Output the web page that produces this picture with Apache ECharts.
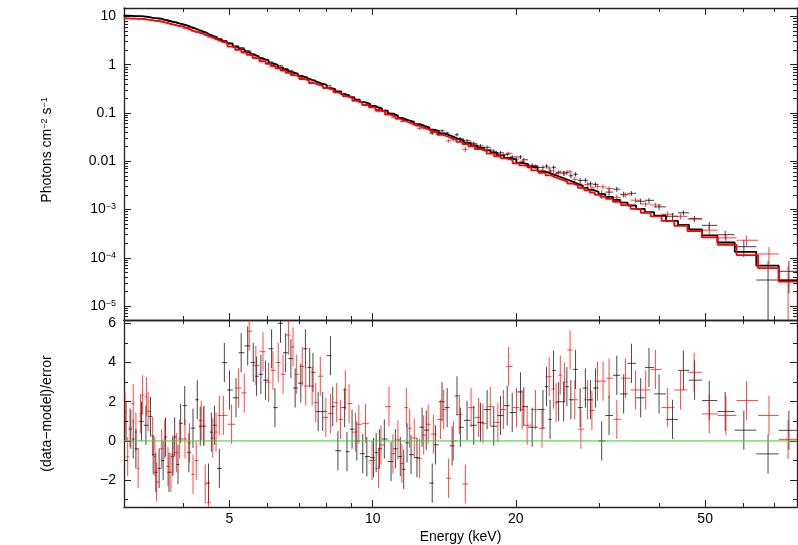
<!DOCTYPE html>
<html><head><meta charset="utf-8">
<script src="https://cdn.jsdelivr.net/npm/echarts@6/dist/echarts.min.js"></script>
<style>html,body{margin:0;padding:0;background:#fff}#c{width:798px;height:545px}</style>
</head><body><div id="c"></div>
<script>
// ---------- data ----------
const blackEnergy = [3.03,3.10,3.137,3.178,3.265,3.336,3.41,3.455,3.50,3.556,3.625,3.667,3.73,3.80,3.834,3.896,3.947,4.025,4.107,4.19,4.277,4.34,4.415,4.516,4.58,4.648,4.76,4.877,5.0,5.16,5.29,5.46,5.608,5.70,5.82,5.95,6.13,6.23,6.40,6.56,6.73,6.87,7.06,7.22,7.37,7.49,7.68,7.85,8.15,8.24,8.45,8.73,8.83,9.05,9.26,9.53,9.72,10.04,10.17,10.34,10.58,10.93,11.16,11.43,11.62,11.81,12.04,12.39,12.70,12.96,13.34,13.55,13.99,14.34,14.69,15.04,15.29,15.79,16.31,16.85,17.40,17.97,18.57,19.18,19.65,20.45,20.78,21.64,22.8,23.2,23.6,24.0,24.6,25.2,25.6,26.1,26.7,27.3,28.0,28.7,29.4,30.3,31.4,32.6,33.7,35.0,36.6,38.1,40.0,42.7,45.0,47.5,51.0,55.1,60.3,67.8,75.0];
const blackModel = [10.36,10.28,10.24,10.20,10.04,9.78,9.51,9.36,9.21,9.03,8.65,8.41,8.06,7.69,7.53,7.24,6.98,6.52,6.07,5.67,5.27,5.00,4.65,4.23,3.98,3.74,3.38,3.04,2.73,2.36,2.115,1.82,1.60,1.485,1.346,1.227,1.063,0.989,0.875,0.786,0.706,0.644,0.577,0.528,0.489,0.4587,0.417,0.3834,0.329,0.309,0.279,0.2438,0.2326,0.210,0.1897,0.168,0.1549,0.140,0.1325,0.1239,0.1121,0.0970,0.0885,0.0794,0.0749,0.0705,0.0657,0.0590,0.0539,0.0499,0.0450,0.0425,0.0376,0.0344,0.0315,0.0288,0.0272,0.0241,0.0214,0.01897,0.01681,0.01494,0.01324,0.01175,0.01075,0.00927,0.00874,0.00751,0.00617,0.00581,0.00548,0.00510,0.00466,0.00430,0.00404,0.00374,0.00340,0.00313,0.00281,0.00255,0.00232,0.00207,0.00182,0.00158,0.00139,0.00121,0.00103,8.86e-4,7.42e-4,5.83e-4,4.77e-4,3.85e-4,2.90e-4,2.07e-4,1.33e-4,6.84e-5,3.40e-5];
const blackResid = [1.0,0.6,0.1,-0.4,1.0,0.8,1.25,-0.7,-1.6,-1.4,-1.0,0.2,-1.6,-0.8,0.2,-1.2,0.9,1.8,-0.6,0.65,2.1,0.75,0.75,-2.15,0.45,0.8,-1.4,4.0,2.6,2.2,4.5,4.85,4.0,3.3,3.4,3.1,4.7,1.7,6.0,4.5,4.2,2.7,2.95,4.7,3.75,3.5,1.5,1.5,4.35,1.75,-0.5,1.7,-0.55,0.6,0,-0.65,-0.8,-0.85,-0.6,-0.4,0.1,-1.05,-0.4,-0.8,-1.45,-0.1,-0.7,-0.85,0.7,0.55,-2.15,-0.2,2.0,1.7,-0.25,2.3,0.7,1.05,0.8,0.95,1.6,0.75,1.3,1.8,1.45,2.5,1.75,0.7,1.6,2.77,1.1,3.6,2.0,2.0,2.77,2.1,3.65,1.7,2.7,2.1,2.7,0.0,1.3,3.35,2.4,3.96,2.2,3.75,2.4,1.1,3.6,3.1,2.06,1.5,0.55,-0.66,0.54];

const redEnergy = [3.015,3.054,3.088,3.137,3.178,3.213,3.250,3.282,3.347,3.372,3.446,3.483,3.513,3.60,3.655,3.712,3.765,3.80,3.866,3.928,4.03,4.12,4.19,4.256,4.36,4.415,4.445,4.516,4.61,4.684,4.76,4.854,5.05,5.225,5.37,5.50,5.68,5.88,6.04,6.17,6.33,6.48,6.65,6.80,6.91,7.11,7.23,7.46,7.59,7.76,7.97,8.15,8.40,8.56,8.76,8.92,9.20,9.35,9.66,9.97,10.29,10.41,10.82,11.03,11.30,11.52,11.77,11.96,12.23,12.55,12.80,13.08,13.43,13.88,14.10,14.44,14.78,15.21,15.66,16.10,16.70,17.05,17.67,18.33,18.84,19.31,20.06,20.62,21.12,21.99,22.7,23.5,24.0,24.3,24.8,25.3,26.0,26.6,27.4,28.3,28.9,29.7,30.5,31.4,32.6,34.0,35.7,37.5,39.3,41.7,44.4,47.4,51.0,55.3,61.1,68.1,74.7];
const redModel = [9.14,9.10,9.07,9.03,8.99,8.96,8.90,8.79,8.58,8.50,8.28,8.17,8.08,7.76,7.47,7.18,6.93,6.77,6.50,6.25,5.72,5.28,5.00,4.72,4.47,4.24,4.12,3.85,3.53,3.30,3.08,2.83,2.37,2.035,1.79,1.60,1.372,1.169,1.043,0.942,0.840,0.760,0.678,0.613,0.572,0.507,0.4746,0.4183,0.392,0.361,0.328,0.300,0.2676,0.2461,0.2223,0.2048,0.1788,0.1671,0.1459,0.1318,0.1153,0.1098,0.0924,0.0848,0.0761,0.0703,0.0651,0.0614,0.0564,0.0513,0.0478,0.0442,0.0400,0.0354,0.0334,0.0305,0.0279,0.0251,0.02265,0.02044,0.01783,0.01648,0.01445,0.01268,0.01151,0.01061,0.00908,0.00820,0.00750,0.00646,0.00573,0.00509,0.00470,0.00443,0.00413,0.00383,0.00346,0.00316,0.00282,0.00248,0.002253,0.002024,0.001832,0.001657,0.001442,0.001227,0.001026,8.57e-4,7.18e-4,5.82e-4,4.58e-4,3.56e-4,2.64e-4,1.86e-4,1.135e-4,6.07e-5,3.20e-5];
const redResid = [1.5,-0.8,0.7,1.9,0.45,-1.4,1.4,2.35,2.25,1.5,0.25,-0.8,-2.1,-0.4,0.1,-1.3,-1.6,-0.7,-0.6,0.1,0.1,-0.1,-1.7,-1.0,1.05,0.8,-2.2,-3.15,0.15,0.45,1.3,1.3,0.85,2.7,2.45,5.6,3.85,4.55,3.0,3.6,4.0,3.4,5.4,4.8,3.4,3.8,2.8,2.8,1.95,3.3,1.2,1.4,1.95,1.1,2.6,1.9,0.45,0.85,0.9,-1.0,-1.4,-0.2,1.75,-0.65,0.05,-1.15,1.7,0.65,0.15,-0.9,0.3,0.85,0.35,1.1,1.6,-1.9,0.0,1.35,-2.2,1.7,1.2,0.9,1.75,0.95,1.6,3.8,1.7,1.6,0.8,1.6,0.65,3.28,2.65,1.95,3.36,3.0,4.64,2.1,0.6,2.1,1.55,3.05,3.05,3.2,1.1,3.2,2.6,2.6,3.65,1.7,2.6,3.5,1.38,1.3,2.06,1.3,0.08];

// relative flux error (sigma / model) read per energy band
const relErrBandEdges = [5, 8, 10, 12, 15, 20, 25, 30, 40, 50, 58, 65, 72];
const relErrBandValues = [0.01, 0.015, 0.025, 0.045, 0.07, 0.1, 0.13, 0.16, 0.2, 0.22, 0.3, 0.5, 0.75, 1.0];

// ticks and labels
const xMajorTicks = [5, 10, 20, 50];
const xMinorTicks = [4, 6, 7, 8, 9, 30, 40, 60, 70];
const fluxDecades = [-5, -4, -3, -2, -1, 0, 1];
const fluxTickLabels = ['10{s|\u22125}', '10{s|\u22124}', '10{s|\u22123}', '0.01', '0.1', '1', '10'];
const residMajorTicks = [-2, 0, 2, 4, 6];
const residMinorTicks = [-3, -1, 1, 3, 5];
const residTickLabels = ['\u22122', '0', '2', '4', '6'];

// ---------- build ----------
const L = Math.log10;
const xMin = L(3), xMax = L(78);
const yTopMin = -5.29, yTopMax = 1.176;
const yBotMin = -3.37, yBotMax = 6.17;
const FONT = "'Liberation Sans', Arial, Helvetica, sans-serif";
const AX = '#222';

function edges(E) {
  const n = E.length, lo = [], hi = [];
  for (let i = 0; i < n; i++) {
    lo.push(i === 0 ? E[0] - (E[1] - E[0]) / 2 : (E[i - 1] + E[i]) / 2);
    hi.push(i === n - 1 ? E[n - 1] + (E[n - 1] - E[n - 2]) / 2 : (E[i] + E[i + 1]) / 2);
  }
  return {lo, hi};
}
function relErr(e) {
  let k = 0;
  while (k < relErrBandEdges.length && e >= relErrBandEdges[k]) k++;
  return relErrBandValues[k];
}
function build(E, M, R) {
  const {lo, hi} = edges(E);
  const flux = [], resid = [], model = [];
  for (let i = 0; i < E.length; i++) {
    const s = M[i] * relErr(E[i]);
    const d = M[i] + R[i] * s;
    const dl = d - s, du = d + s;
    flux.push([L(lo[i]), L(hi[i]), L(E[i]), L(d), dl > 0 ? L(dl) : -10, L(du)]);
    resid.push([L(lo[i]), L(hi[i]), L(E[i]), R[i], R[i] - 1, R[i] + 1]);
    model.push([L(lo[i]), L(M[i])], [L(hi[i]), L(M[i])]);
  }
  return {flux, resid, model};
}
const B = build(blackEnergy, blackModel, blackResid);
const Rd = build(redEnergy, redModel, redResid);

function crosses(color) {
  return function (params, api) {
    const cs = params.coordSys;
    const x0 = cs.x, x1 = cs.x + cs.width, y0 = cs.y, y1 = cs.y + cs.height;
    const cl = (v, a, b) => Math.max(a, Math.min(b, v));
    const pl = api.coord([api.value(0), api.value(3)]);
    const ph = api.coord([api.value(1), api.value(3)]);
    const pb = api.coord([api.value(2), api.value(4)]);
    const pt = api.coord([api.value(2), api.value(5)]);
    const ch = [];
    const st = {stroke: color, lineWidth: 1};
    if (pl[1] >= y0 && pl[1] <= y1 && ph[0] > x0 && pl[0] < x1)
      ch.push({type: 'line', shape: {x1: cl(pl[0], x0, x1), y1: pl[1], x2: cl(ph[0], x0, x1), y2: pl[1]}, style: st});
    if (pb[0] >= x0 && pb[0] <= x1) {
      const ya = cl(pb[1], y0, y1), yb = cl(pt[1], y0, y1);
      if (ya !== yb) ch.push({type: 'line', shape: {x1: pb[0], y1: ya, x2: pb[0], y2: yb}, style: st});
    }
    return {type: 'group', children: ch};
  };
}

function ax(gridIndex, position, min, max, ticks, len, line, extra) {
  return Object.assign({
    type: 'value', gridIndex, position, min, max,
    axisLine: {show: line, onZero: false, lineStyle: {color: AX, width: 1.3}},
    axisTick: {show: true, inside: true, length: len, customValues: ticks, lineStyle: {color: AX, width: 1}},
    axisLabel: {show: false},
    splitLine: {show: false}
  }, extra || {});
}

const xMaj = xMajorTicks.map(L), xMin2 = xMinorTicks.map(L);
const yMinTop = [];
for (let d = -6; d <= 1; d++) for (let k = 2; k <= 9; k++) {
  const v = d + L(k);
  if (v > yTopMin && v < yTopMax) yMinTop.push(v);
}

const labelStyle = {color: '#000', fontSize: 14, fontFamily: FONT};
const supRich = {s: {fontSize: 9, fontFamily: FONT, color: '#000', verticalAlign: 'top', lineHeight: 10}};

const option = {
  animation: false,
  backgroundColor: '#fff',
  grid: [
    {left: 124, top: 8, width: 673, height: 312},
    {left: 124, top: 320, width: 673, height: 187}
  ],
  xAxis: [
    ax(0, 'bottom', xMin, xMax, xMaj, 7, true),
    ax(0, 'bottom', xMin, xMax, xMin2, 4, false),
    ax(0, 'top', xMin, xMax, xMaj, 7, true),
    ax(0, 'top', xMin, xMax, xMin2, 4, false),
    ax(1, 'bottom', xMin, xMax, xMaj, 7, true, {
      axisLabel: Object.assign({show: true, customValues: xMaj, margin: 5,
        formatter: v => String(Math.round(Math.pow(10, v)))}, labelStyle),
      name: 'Energy (keV)', nameLocation: 'middle', nameGap: 23,
      nameTextStyle: labelStyle
    }),
    ax(1, 'bottom', xMin, xMax, xMin2, 4, false),
    ax(1, 'top', xMin, xMax, xMaj, 7, true),
    ax(1, 'top', xMin, xMax, xMin2, 4, false)
  ],
  yAxis: [
    ax(0, 'left', yTopMin, yTopMax, fluxDecades, 7, true, {
      axisLabel: Object.assign({show: true, customValues: fluxDecades, margin: 8,
        formatter: v => fluxTickLabels[fluxDecades.indexOf(Math.round(v))], rich: supRich}, labelStyle),
      name: 'Photons cm{s|\u22122} s{s|\u22121}', nameLocation: 'middle', nameRotate: 90, nameGap: 70,
      nameTextStyle: Object.assign({rich: supRich, padding: [0, 0, 0, 28]}, labelStyle)
    }),
    ax(0, 'left', yTopMin, yTopMax, yMinTop, 4, false),
    ax(0, 'right', yTopMin, yTopMax, fluxDecades, 7, true),
    ax(0, 'right', yTopMin, yTopMax, yMinTop, 4, false),
    ax(1, 'left', yBotMin, yBotMax, residMajorTicks, 7, true, {
      axisLabel: Object.assign({show: true, customValues: residMajorTicks, margin: 8,
        formatter: v => residTickLabels[residMajorTicks.indexOf(Math.round(v))]}, labelStyle),
      name: '(data\u2212model)/error', nameLocation: 'middle', nameRotate: 90, nameGap: 70,
      nameTextStyle: labelStyle
    }),
    ax(1, 'left', yBotMin, yBotMax, residMinorTicks, 4, false),
    ax(1, 'right', yBotMin, yBotMax, residMajorTicks, 7, true),
    ax(1, 'right', yBotMin, yBotMax, residMinorTicks, 4, false)
  ],
  series: [
    {type: 'custom', xAxisIndex: 0, yAxisIndex: 0, data: B.flux, renderItem: crosses('rgba(0,0,0,0.75)'),
      encode: {x: [0, 1, 2], y: [3, 4, 5]}, silent: true},
    {type: 'line', xAxisIndex: 0, yAxisIndex: 0, data: B.model, symbol: 'none', clip: true,
      lineStyle: {color: '#000', width: 1.8}, silent: true},
    {type: 'custom', xAxisIndex: 0, yAxisIndex: 0, data: Rd.flux, renderItem: crosses('rgba(255,0,0,0.75)'),
      encode: {x: [0, 1, 2], y: [3, 4, 5]}, silent: true},
    {type: 'line', xAxisIndex: 0, yAxisIndex: 0, data: Rd.model, symbol: 'none', clip: true,
      lineStyle: {color: '#ff0000', width: 1.8}, silent: true},
    {type: 'custom', xAxisIndex: 4, yAxisIndex: 4, data: B.resid, renderItem: crosses('rgba(0,0,0,0.72)'),
      encode: {x: [0, 1, 2], y: [3, 4, 5]}, silent: true},
    {type: 'custom', xAxisIndex: 4, yAxisIndex: 4, data: Rd.resid, renderItem: crosses('rgba(255,0,0,0.72)'),
      encode: {x: [0, 1, 2], y: [3, 4, 5]}, silent: true},
    {type: 'line', xAxisIndex: 4, yAxisIndex: 4, data: [[xMin, 0], [xMax, 0]], symbol: 'none',
      lineStyle: {color: '#33cc33', width: 1}, silent: true}
  ]
};
const chart = echarts.init(document.getElementById('c'), null, {renderer: 'canvas'});
chart.setOption(option);
</script>
</body></html>
